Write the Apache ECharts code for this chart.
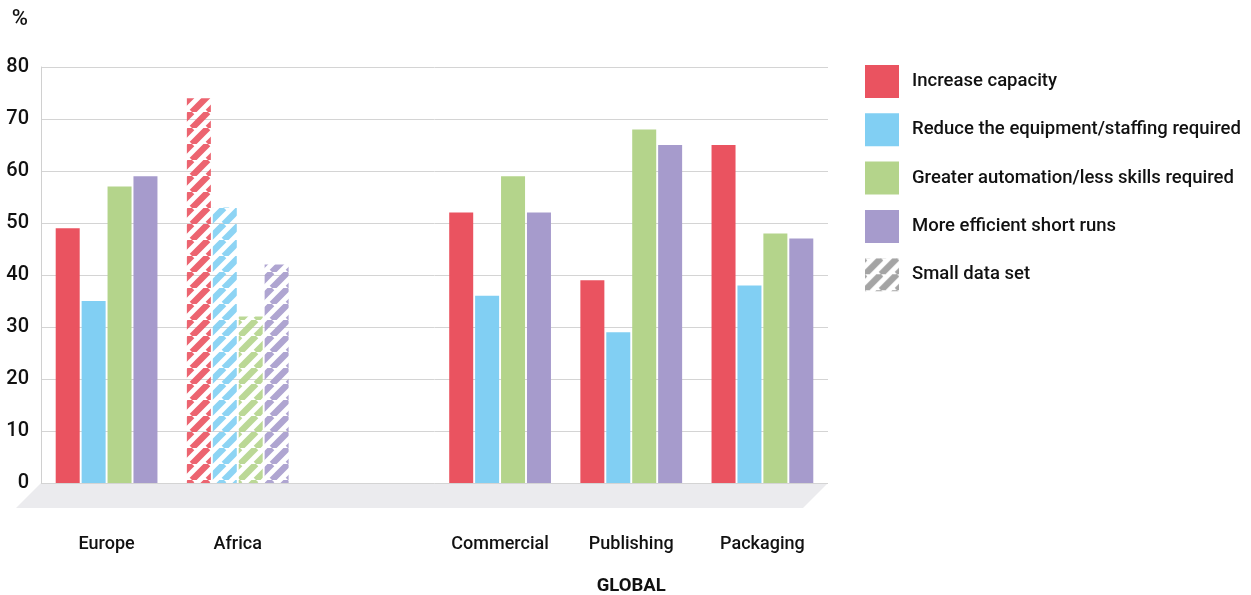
<!DOCTYPE html>
<html lang="en">
<head>
  <meta charset="UTF-8">
  <title>chart</title>
  <script src="https://cdn.jsdelivr.net/npm/echarts@6/dist/echarts.min.js"></script>
  <style>
    html, body { margin: 0; padding: 0; background: #fff; }
    #main { width: 1251px; height: 595px; }
  </style>
</head>
<body>
  <div id="main"></div>
  <script type="text/javascript">
    // data
    var categories = ['Europe', 'Africa', '', 'Commercial', 'Publishing', 'Packaging'];
    var increaseCapacity = [49, 74, null, 52, 39, 65];
    var reduceStaffing = [35, 53, null, 36, 29, 38];
    var greaterAutomation = [57, 32, null, 59, 68, 48];
    var shortRuns = [59, 42, null, 52, 65, 47];
    var smallDataSet = ['Africa'];
    var seriesNames = ['Increase capacity', 'Reduce the equipment/staffing required',
      'Greater automation/less skills required', 'More efficient short runs'];
    var groupLabel = 'GLOBAL';

    var colors = ['#ea5360', '#81cff3', '#b4d48b', '#a69bcc'];
    var FONT = 'Roboto, "DejaVu Sans Condensed", sans-serif';
    var gridLeft = 41, gridRight = 423, gridTop = 67, gridBottom = 112;

    // diagonal stripes for the small data set bars
    function hatch(color) {
      var s = 16;
      var c = document.createElement('canvas');
      c.width = s; c.height = s;
      var ctx = c.getContext('2d');
      ctx.strokeStyle = color;
      ctx.globalAlpha = 0.9;
      ctx.lineWidth = 6.5;
      ctx.beginPath();
      for (var k = -1; k <= 1; k++) {
        ctx.moveTo(k * s, s);
        ctx.lineTo(k * s + s, 0);
      }
      ctx.stroke();
      return { image: c, repeat: 'repeat' };
    }

    function buildData(values, color) {
      return values.map(function (v, i) {
        if (smallDataSet.indexOf(categories[i]) >= 0) {
          return { value: v, itemStyle: { color: hatch(color) } };
        }
        return v;
      });
    }

    var allValues = [increaseCapacity, reduceStaffing, greaterAutomation, shortRuns];
    var series = allValues.map(function (vals, i) {
      return {
        name: seriesNames[i],
        type: 'bar',
        barWidth: 24,
        barGap: '8%',
        itemStyle: { color: colors[i] },
        data: buildData(vals, colors[i])
      };
    });
    var grayHatch = hatch('#9a9a9a');
    series.push({ name: 'Small data set', type: 'line', data: [], itemStyle: { color: grayHatch } });

    var labelStyle = { fontSize: 18, fontWeight: 500, color: '#111', fontFamily: FONT };

    var chart = echarts.init(document.getElementById('main'));
    var option = {
      animation: false,
      textStyle: { fontFamily: FONT },
      grid: { left: gridLeft, right: gridRight, top: gridTop, bottom: gridBottom },
      legend: {
        orient: 'vertical',
        left: 865,
        top: 65,
        padding: 0,
        itemWidth: 34,
        itemHeight: 33,
        itemGap: 15.3,
        selectedMode: false,
        textStyle: Object.assign({ padding: [0, 0, 0, 8] }, labelStyle, { fontSize: 18.5 }),
        data: seriesNames.map(function (n) { return { name: n, icon: 'rect' }; }).concat([
          { name: 'Small data set', icon: 'rect', itemStyle: { color: grayHatch } }
        ])
      },
      xAxis: {
        type: 'category',
        data: categories,
        axisLine: { show: false },
        axisTick: { show: false },
        axisLabel: Object.assign({ margin: 52, interval: 0 }, labelStyle)
      },
      yAxis: {
        type: 'value',
        min: 0,
        max: 80,
        interval: 10,
        name: '%',
        nameGap: 37,
        nameTextStyle: { fontSize: 22, fontWeight: 500, color: '#111', align: 'right', padding: [0, 13, 0, 0], fontFamily: FONT },
        axisLine: { show: true, lineStyle: { color: '#d0d0d0' } },
        axisTick: { show: false },
        axisLabel: { margin: 12, fontSize: 20, fontWeight: 500, color: '#111', fontFamily: FONT },
        splitLine: { lineStyle: { color: '#d4d4d4' } }
      },
      series: series
    };
    chart.setOption(option);

    // grey floor under the bars and the GLOBAL group label
    var y0 = chart.convertToPixel({ yAxisIndex: 0 }, 0);
    var xRight = 1251 - gridRight;
    var depth = 25;
    var xGlobal = chart.convertToPixel({ xAxisIndex: 0 }, 'Publishing');
    chart.setOption({
      graphic: [
        {
          type: 'polygon',
          z: -1,
          shape: { points: [[gridLeft, y0], [xRight, y0], [xRight - depth, y0 + depth], [gridLeft - depth, y0 + depth]] },
          style: { fill: '#ebebee' }
        },
        {
          type: 'text',
          x: xGlobal,
          y: 586,
          style: {
            text: groupLabel, fontSize: 18.5, fontWeight: 'bold', fill: '#111',
            fontFamily: FONT, align: 'center', verticalAlign: 'middle'
          }
        }
      ]
    });
  </script>
</body>
</html>
